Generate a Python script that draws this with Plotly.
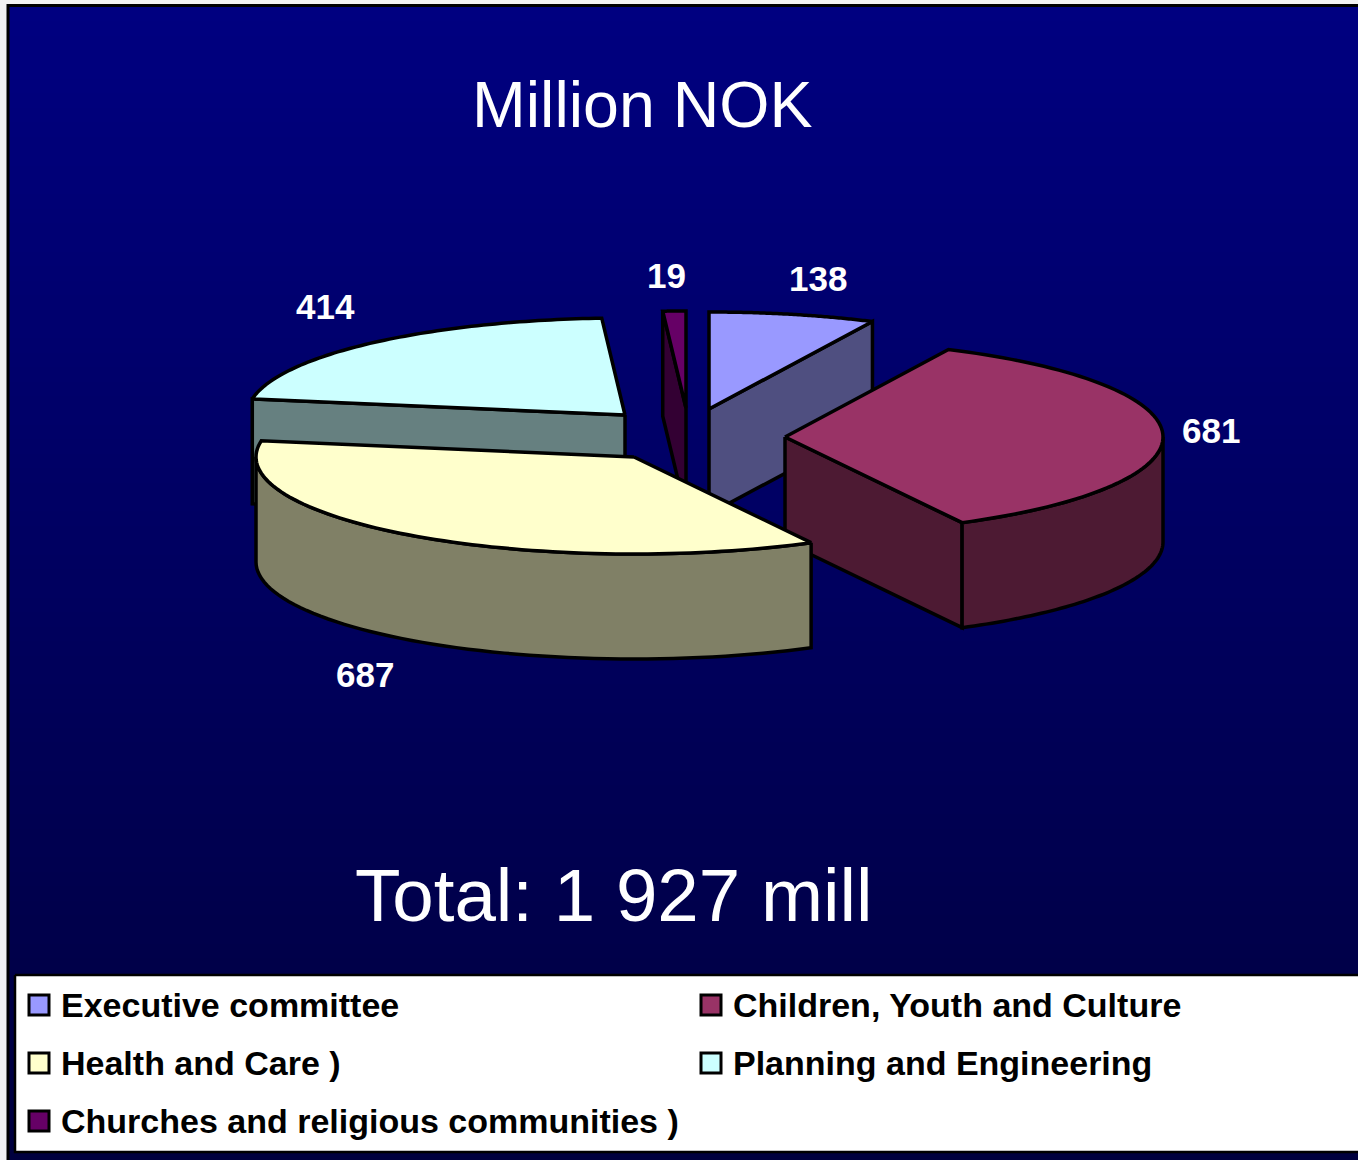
import math
import numpy as np
import plotly.graph_objects as go

categories = ["Executive committee", "Children, Youth and Culture", "Health and Care )",
              "Planning and Engineering", "Churches and religious communities )"]
values = [138, 681, 687, 414, 19]
top_colors = ["#9999FF", "#993366", "#FFFFCC", "#CCFFFF", "#660066"]
side_colors = ["#4F4F80", "#4D1A33", "#808066", "#668080", "#330033"]

W, H = 1358, 1160
RX, RY, DEPTH = 378, 97, 105
tips = [(709, 409), (785, 437), (634, 457), (625, 415), (686, 408)]
label_pos = [(818, 278), (1211, 430), (365, 674), (325, 306), (666, 275)]
swatch_pos = [(39, 1005), (711, 1005), (39, 1063), (711, 1063), (39, 1121)]
draw_order = [4, 0, 3, 1, 2]
FONT = "Liberation Sans"

fig = go.Figure()

# background gradient
rows = np.linspace(7, H, 81)
fig.add_trace(go.Heatmap(
    x=[9, W], y=rows, z=[[float(i)] for i in range(80)],
    colorscale=[[0, "#000080"], [1, "#00003E"]], showscale=False, hoverinfo="skip"))

def poly(xs, ys, fill, lw=3.5):
    fig.add_trace(go.Scatter(x=xs, y=ys, mode="lines", fill="toself", fillcolor=fill,
                             line=dict(color="black", width=lw, simplify=False),
                             hoverinfo="skip", showlegend=False))

total = sum(values)
angles = [0.0]
for v in values:
    angles.append(angles[-1] + 360.0 * v / total)

def pt(i, a, dz=0):
    t = math.radians(a)
    return tips[i][0] + RX * math.sin(t), tips[i][1] - RY * math.cos(t) + dz

for i in draw_order:
    a0, a1 = angles[i], angles[i + 1]
    tx, ty = tips[i]
    # radial faces
    if math.sin(math.radians(a0)) < -1e-6:
        p = pt(i, a0); q = pt(i, a0, DEPTH)
        poly([tx, p[0], q[0], tx, tx], [ty, p[1], q[1], ty + DEPTH, ty], side_colors[i])
    if math.sin(math.radians(a1)) > 1e-6:
        p = pt(i, a1); q = pt(i, a1, DEPTH)
        poly([tx, p[0], q[0], tx, tx], [ty, p[1], q[1], ty + DEPTH, ty], side_colors[i])
    # outer wall
    lo, hi = max(a0, 90), min(a1, 270)
    if hi > lo:
        arc = np.linspace(lo, hi, 60)
        upper = [pt(i, a) for a in arc]
        lower = [pt(i, a, DEPTH) for a in arc[::-1]]
        ring = upper + lower + [upper[0]]
        poly([p[0] for p in ring], [p[1] for p in ring], side_colors[i])
    # top
    arc = np.linspace(a0, a1, 80)
    top = [(tx, ty)] + [pt(i, a) for a in arc] + [(tx, ty)]
    poly([p[0] for p in top], [p[1] for p in top], top_colors[i])

# legend panel
poly([15, W + 5, W + 5, 15, 15], [975, 975, 1152, 1152, 975], "white", 2.5)
for i, (sx, sy) in enumerate(swatch_pos):
    fig.add_trace(go.Scatter(x=[sx], y=[sy], mode="markers", hoverinfo="skip",
                             marker=dict(symbol="square", size=20, color=top_colors[i],
                                         line=dict(color="black", width=3))))

ann = []
def text(x, y, s, size, color, bold=False, anchor="center"):
    ann.append(dict(x=x, y=y, xref="x", yref="y", text=f"<b>{s}</b>" if bold else s,
                    showarrow=False, xanchor=anchor, yanchor="middle",
                    font=dict(family=FONT, size=size, color=color)))

text(642, 105, "Million NOK", 64.5, "white")
text(613.5, 895, "Total: 1 927 mill", 74.5, "white")
for (lx, ly), v in zip(label_pos, values):
    text(lx, ly, str(v), 35, "white", bold=True)
for i, (sx, sy) in enumerate(swatch_pos):
    text(sx + 20, sy, categories[i], 34, "black", bold=True, anchor="left")

shapes = [
    dict(type="line", xref="x", yref="y", x0=7, x1=W, y0=5.5, y1=5.5, line=dict(color="black", width=3)),
    dict(type="line", xref="x", yref="y", x0=8, x1=8, y0=4, y1=H, line=dict(color="black", width=3)),
]

fig.update_layout(
    width=W, height=H, autosize=False, showlegend=False,
    margin=dict(l=0, r=0, t=0, b=0),
    paper_bgcolor="#F2F2F2", plot_bgcolor="#F2F2F2",
    xaxis=dict(range=[0, W], visible=False, fixedrange=True),
    yaxis=dict(range=[H, 0], visible=False, fixedrange=True),
    annotations=ann, shapes=shapes,
)
fig.write_html("out.html", config={"displayModeBar": False},
               post_script="document.documentElement.style.overflow='hidden';document.body.style.margin='0';")
